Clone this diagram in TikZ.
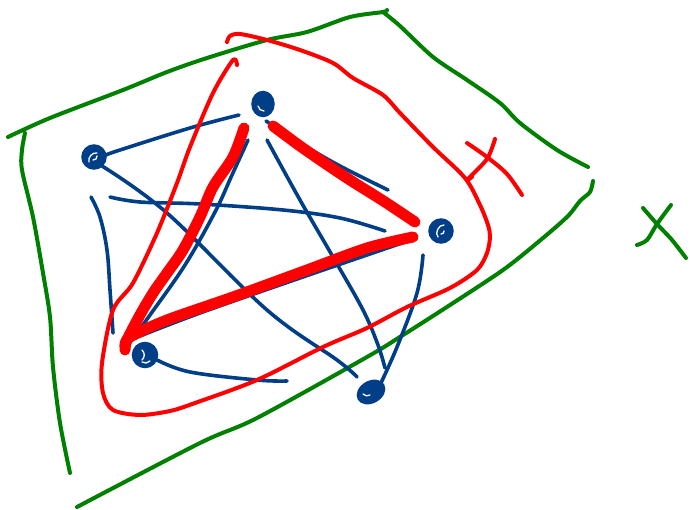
\documentclass[tikz,border=0pt]{standalone}
\usetikzlibrary{calc,shapes.geometric}
\definecolor{sketchblue}{RGB}{0,63,135}
\definecolor{sketchred}{RGB}{255,0,0}
\definecolor{sketchgreen}{RGB}{0,128,0}
\tikzset{
 vertex/.style={circle, fill=sketchblue, draw=sketchblue, line width=1.5pt, minimum size=22pt, inner sep=0pt},
 blueline/.style={draw=sketchblue, line width=3.6pt, line cap=round, line join=round},
 redthin/.style={draw=sketchred, line width=4pt, line cap=round, line join=round},
 redthick/.style={draw=sketchred, line width=11pt, line cap=round, line join=round},
 greenline/.style={draw=sketchgreen, line width=4pt, line cap=round, line join=round},
 shine/.style={draw=white, line width=1.3pt, line cap=round},
}
\begin{document}
\begin{tikzpicture}[x=1pt,y=-1pt]
\path[use as bounding box] (0,0) rectangle (690,510);

% ---- green set X ----
\draw[greenline] plot[smooth, tension=0.5] coordinates {(8,137) (50,118) (123,90) (167,72) (207,58) (267,40) (307,32) (350,17) (383,12) (387,10)};
\draw[greenline] plot[smooth, tension=0.5] coordinates {(383,12) (400,26) (433,57) (467,80) (500,103) (520,123) (557,150) (588,167)};
\draw[greenline] plot[smooth, tension=0.5] coordinates {(593,181) (590,192) (580,201) (567,217) (537,243) (503,270) (450,305) (403,335) (367,357) (257,418) (200,443) (77,507)};
\draw[greenline] plot[smooth, tension=0.5] coordinates {(25,133) (22,150) (22,170) (33,217) (43,273) (50,317) (53,367) (60,423) (70,473)};
% label X
\draw[greenline] plot[smooth, tension=0.5] coordinates {(643,208) (657,224) (672,240) (686,258)};
\draw[greenline] plot[smooth, tension=0.5] coordinates {(671,205) (657,224) (647,240) (637,245)};

% ---- vertices ----
\node[vertex, minimum width=22pt, minimum height=25pt, ellipse] (v1) at (263,104) {};
\node[vertex, minimum size=24pt] (v2) at (94,157) {};
\node[vertex, minimum size=24pt] (v3) at (441,231) {};
\node[vertex, minimum size=25pt] (v4) at (145,355) {};
\node[vertex, ellipse, minimum width=29pt, minimum height=21pt, rotate=30] (v5) at (371,392) {};
\draw[shine] ($(v1)+(-5,2)$) to[bend right=40] ($(v1)+(1,7)$);
\draw[shine] ($(v2)+(-5,5)$) to[bend left=60] ($(v2)+(3,-4)$);
\draw[shine] ($(v2)+(-1,3)$) to[bend right=60] ($(v2)+(3,-1)$);
\draw[shine] ($(v3)+(-3,6)$) to[bend left=70] ($(v3)+(3,-6)$);
\draw[shine] ($(v3)+(0,3)$) to[bend right=60] ($(v3)+(3,0)$);
\draw[shine] ($(v4)+(-3,-5)$) to[bend left=50] ($(v4)+(-3,5)$);
\draw[shine] ($(v4)+(-3,7)$) to[bend right=40] ($(v4)+(5,6)$);
\draw[shine] ($(v5)+(-8,2)$) to[bend right=40] ($(v5)+(-1,3)$);

% ---- blue edges ----
\draw[blueline] plot[smooth, tension=0.6] coordinates {(239,115) (190,128) (120,150) (106,155)};
\draw[blueline] plot[smooth, tension=0.6] coordinates {(102,166) (167,213) (267,310) (337,360) (357,377)};
\draw[blueline] plot[smooth, tension=0.6] coordinates {(110,197) (140,202) (200,204) (283,210) (340,218) (385,231)};
\draw[blueline] plot[smooth, tension=0.6] coordinates {(91,197) (100,217) (107,250) (110,290) (113,333)};
\draw[blueline] plot[smooth, tension=0.6] coordinates {(248,140) (232,175) (215,212) (185,265) (150,315) (132,340)};
\draw[blueline] plot[smooth, tension=0.6] coordinates {(267,140) (300,200) (333,257) (363,310) (378,345) (385,368)};
\draw[blueline] plot[smooth, tension=0.6] coordinates {(266,121) (300,143) (340,166) (388,190)};
\draw[blueline] plot[smooth, tension=0.6] coordinates {(405,242) (300,278) (200,313) (135,338)};
\draw[blueline] plot[smooth, tension=0.6] coordinates {(423,255) (417,293) (397,347) (380,385)};
\draw[blueline] plot[smooth, tension=0.6] coordinates {(157,360) (190,372) (257,380) (287,381)};

% ---- red subgraph H ----
\draw[redthin] plot[smooth, tension=0.5] coordinates {(237,65) (233,60) (213,93) (190,147) (177,183) (157,233) (133,283) (113,310) (102,363) (103,393) (113,410) (140,415) (170,411) (195,403) (257,380) (323,347) (367,328) (407,307) (450,288) (477,270) (487,253) (490,237) (488,225) (480,205) (465,178) (433,147) (400,113) (383,95) (353,78) (333,63) (300,50) (267,40) (240,34) (230,36) (227,42)};
% label H
\draw[redthin] plot[smooth, tension=0.5] coordinates {(467,143) (487,157) (507,174) (522,195)};
\draw[redthin] plot[smooth, tension=0.5] coordinates {(495,139) (487,159) (468,179) (472,177)};
% thick red edges
\draw[redthick] plot[smooth, tension=0.5] coordinates {(244,128) (233,157) (213,187) (200,217) (183,250) (167,273) (153,293) (140,315) (127,340) (125,350)};
\draw[redthick] plot[smooth, tension=0.5] coordinates {(273,126) (300,146) (326,164) (350,180) (385,202) (415,222)};
\draw[redthick] plot[smooth, tension=0.5] coordinates {(413,237) (367,248) (307,270) (233,297) (167,320) (130,337) (125,346)};
\end{tikzpicture}
\end{document}
